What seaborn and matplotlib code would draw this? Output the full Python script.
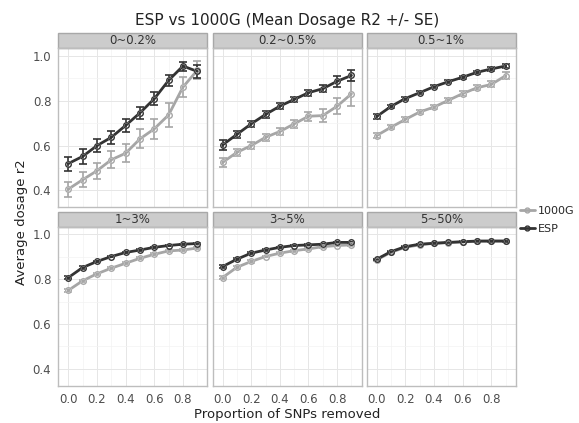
import numpy as np
import pandas as pd
import matplotlib
matplotlib.use("Agg")
import matplotlib.pyplot as plt
from matplotlib.patches import Rectangle
from matplotlib.ticker import MultipleLocator
import seaborn as sns

# data
prop_removed = [0.0, 0.1, 0.2, 0.3, 0.4, 0.5, 0.6, 0.7, 0.8, 0.9]
panels = ["0~0.2%", "0.2~0.5%", "0.5~1%", "1~3%", "3~5%", "5~50%"]

esp_mean = {
    "0~0.2%":   [0.520, 0.552, 0.600, 0.637, 0.690, 0.746, 0.809, 0.891, 0.955, 0.931],
    "0.2~0.5%": [0.603, 0.650, 0.697, 0.739, 0.776, 0.806, 0.836, 0.854, 0.887, 0.913],
    "0.5~1%":   [0.730, 0.775, 0.810, 0.836, 0.863, 0.885, 0.905, 0.927, 0.942, 0.955],
    "1~3%":     [0.807, 0.852, 0.879, 0.901, 0.919, 0.930, 0.942, 0.950, 0.956, 0.959],
    "3~5%":     [0.856, 0.889, 0.916, 0.930, 0.942, 0.950, 0.953, 0.956, 0.964, 0.964],
    "5~50%":    [0.889, 0.923, 0.945, 0.956, 0.960, 0.964, 0.967, 0.970, 0.970, 0.970],
}
esp_se = {
    "0~0.2%":   [0.031, 0.033, 0.030, 0.030, 0.028, 0.028, 0.028, 0.024, 0.020, 0.028],
    "0.2~0.5%": [0.021, 0.016, 0.015, 0.014, 0.013, 0.013, 0.014, 0.016, 0.025, 0.025],
    "0.5~1%":   [0.010, 0.008, 0.008, 0.008, 0.007, 0.007, 0.007, 0.007, 0.008, 0.010],
    "1~3%":     [0.006, 0.005, 0.004, 0.004, 0.004, 0.004, 0.003, 0.003, 0.003, 0.004],
    "3~5%":     [0.007, 0.005, 0.004, 0.003, 0.003, 0.003, 0.003, 0.003, 0.003, 0.004],
    "5~50%":    [0.003, 0.002, 0.002, 0.002, 0.002, 0.002, 0.002, 0.002, 0.002, 0.002],
}
g1000_mean = {
    "0~0.2%":   [0.406, 0.448, 0.488, 0.537, 0.566, 0.630, 0.675, 0.737, 0.861, 0.936],
    "0.2~0.5%": [0.525, 0.570, 0.600, 0.637, 0.663, 0.697, 0.731, 0.734, 0.776, 0.831],
    "0.5~1%":   [0.645, 0.682, 0.717, 0.750, 0.772, 0.802, 0.832, 0.858, 0.873, 0.912],
    "1~3%":     [0.750, 0.793, 0.824, 0.849, 0.871, 0.893, 0.911, 0.926, 0.930, 0.939],
    "3~5%":     [0.807, 0.853, 0.879, 0.901, 0.916, 0.927, 0.935, 0.945, 0.950, 0.953],
    "5~50%":    [0.886, 0.920, 0.942, 0.953, 0.960, 0.963, 0.966, 0.969, 0.970, 0.970],
}
g1000_se = {
    "0~0.2%":   [0.033, 0.034, 0.036, 0.038, 0.040, 0.042, 0.045, 0.054, 0.043, 0.040],
    "0.2~0.5%": [0.019, 0.017, 0.017, 0.017, 0.016, 0.018, 0.020, 0.030, 0.036, 0.055],
    "0.5~1%":   [0.012, 0.010, 0.010, 0.010, 0.010, 0.010, 0.011, 0.012, 0.013, 0.015],
    "1~3%":     [0.006, 0.005, 0.005, 0.004, 0.004, 0.004, 0.004, 0.004, 0.004, 0.004],
    "3~5%":     [0.008, 0.006, 0.005, 0.004, 0.004, 0.004, 0.004, 0.004, 0.004, 0.004],
    "5~50%":    [0.003, 0.002, 0.002, 0.002, 0.002, 0.002, 0.002, 0.002, 0.002, 0.002],
}

rows = []
for p in panels:
    for i, x in enumerate(prop_removed):
        rows.append([p, "1000G", x, g1000_mean[p][i], g1000_se[p][i]])
        rows.append([p, "ESP", x, esp_mean[p][i], esp_se[p][i]])
df = pd.DataFrame(rows, columns=["maf", "panel", "prop", "r2", "se"])

sns.set_style("white")
plt.rcParams['font.family'] = ['DejaVu Sans']
colors = {"1000G": "#a6a6a6", "ESP": "#333333"}

W, H = 579, 423
fig = plt.figure(figsize=(W / 100, H / 100), dpi=100)

lefts = [58.3, 212.5, 366.7]
tops = [48.3, 226.7]
pw, ph = 149.0, 159.0
strip_h = 15.0

axes = []
for k, p in enumerate(panels):
    r, c = divmod(k, 3)
    ax = fig.add_axes([lefts[c] / W, 1 - (tops[r] + ph) / H, pw / W, ph / H])
    axes.append(ax)
    sub = df[df.maf == p]
    ax.set_axisbelow(True)
    for name in ["1000G", "ESP"]:
        s = sub[sub.panel == name]
        ax.errorbar(s.prop, s.r2, yerr=s.se, fmt="none", ecolor=colors[name],
                    elinewidth=1.2, capsize=3.2, capthick=1.2, zorder=2)
    sns.lineplot(data=sub, x="prop", y="r2", hue="panel", palette=colors,
                 hue_order=["1000G", "ESP"], marker="o", markersize=4,
                 markerfacecolor="none", markeredgewidth=1.0, linewidth=2.0,
                 legend=False, ax=ax, zorder=3)
    for name in ["1000G", "ESP"]:
        s = sub[sub.panel == name]
        ax.plot(s.prop, s.r2, ls="none", marker="o", ms=4, mfc="none",
                mec=colors[name], mew=1.0, zorder=4)

    ax.set_xlim(-0.07, 0.97)
    ax.set_ylim(0.325, 1.034)
    ax.xaxis.set_major_locator(MultipleLocator(0.2))
    ax.xaxis.set_minor_locator(MultipleLocator(0.1))
    ax.yaxis.set_major_locator(MultipleLocator(0.2))
    ax.yaxis.set_minor_locator(MultipleLocator(0.1))
    ax.grid(which="major", color="#e6e6e6", lw=0.7)
    ax.grid(which="minor", color="#f3f3f3", lw=0.5)
    for sp in ax.spines.values():
        sp.set_color("#bdbdbd")
        sp.set_linewidth(1.0)
    ax.set_xlabel("")
    ax.set_ylabel("")
    ax.tick_params(which="major", length=3, color="#7f7f7f", labelsize=8.5,
                   labelcolor="#4d4d4d", pad=2)
    ax.tick_params(which="minor", length=0)
    if c == 0:
        ax.set_yticks([0.4, 0.6, 0.8, 1.0])
        ax.set_yticklabels(["0.4", "0.6", "0.8", "1.0"])
    else:
        ax.tick_params(axis="y", which="major", length=0, labelleft=False)
    if r == 1:
        ax.set_xticks([0.0, 0.2, 0.4, 0.6, 0.8])
        ax.set_xticklabels(["0.0", "0.2", "0.4", "0.6", "0.8"])
    else:
        ax.tick_params(axis="x", which="major", length=0, labelbottom=False)

    # facet strip
    sh = strip_h / ph
    ax.add_patch(Rectangle((0, 1.0), 1, sh, transform=ax.transAxes,
                           facecolor="#cccccc", edgecolor="#a8a8a8", lw=1.0,
                           clip_on=False))
    ax.text(0.5, 1 + sh / 2, p, transform=ax.transAxes, ha="center",
            va="center", fontsize=8.5, color="#333333")

fig.text(287 / W, 1 - 20 / H, "ESP vs 1000G (Mean Dosage R2 +/- SE)",
         ha="center", va="center", fontsize=11, color="#222222")
fig.text(287 / W, 1 - 414 / H, "Proportion of SNPs removed",
         ha="center", va="center", fontsize=9.5, color="#222222")
fig.text(22 / W, 1 - 222 / H, "Average dosage r2", rotation=90,
         ha="center", va="center", fontsize=9.5, color="#222222")

# legend
handles = [plt.Line2D([], [], color=colors[n], lw=2, marker="o", ms=3.5,
                      mfc="none", mew=1.0) for n in ["1000G", "ESP"]]
fig.legend(handles, ["1000G", "ESP"], loc="center left",
           bbox_to_anchor=(518 / W, 1 - 220 / H), frameon=False,
           fontsize=8, handlelength=1.3, handletextpad=0.3,
           labelspacing=0.7, borderpad=0.1, borderaxespad=0.1)

fig.savefig("out.png", dpi=100)
